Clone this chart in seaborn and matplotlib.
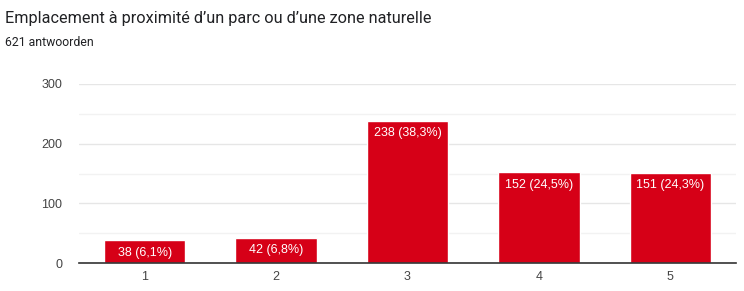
import matplotlib
matplotlib.use("Agg")
import matplotlib.pyplot as plt
import seaborn as sns
import pandas as pd

categories = ["1", "2", "3", "4", "5"]
counts = [38, 42, 238, 152, 151]
labels = ["38 (6,1%)", "42 (6,8%)", "238 (38,3%)", "152 (24,5%)", "151 (24,3%)"]
yticks = [0, 100, 200, 300]
title = "Emplacement à proximité d’un parc ou d’une zone naturelle"
subtitle = "621 antwoorden"

sns.set_theme(style="white")
plt.rcParams["font.family"] = ["Roboto", "DejaVu Sans"]

df = pd.DataFrame({"cat": categories, "n": counts})

fig = plt.figure(figsize=(7.44, 2.91), dpi=100)
ax = fig.add_axes([79/744, 1-263/291, (736-79)/744, (263-84)/291])

sns.barplot(data=df, x="cat", y="n", color="#d60017", saturation=1, width=0.62, ax=ax)

ax.set_xlim(-0.5, 4.5)
ax.set_ylim(0, 300)
ax.set_yticks(yticks)
ax.set_yticks([50, 150, 250], minor=True)
ax.grid(axis="y", which="major", color="#e6e6e6", linewidth=1)
ax.grid(axis="y", which="minor", color="#f2f2f2", linewidth=1)
ax.set_axisbelow(True)
for s in ["top", "right", "left"]:
    ax.spines[s].set_visible(False)
ax.spines["bottom"].set_color("#333333")
ax.spines["bottom"].set_linewidth(1.2)
ax.set_xlabel("")
ax.set_ylabel("")
ax.tick_params(axis="both", which="both", length=0, labelsize=9, labelcolor="#444444")
ax.tick_params(axis="y", pad=12)
ax.tick_params(axis="x", pad=6)
for t in ax.get_xticklabels() + ax.get_yticklabels():
    t.set_fontfamily(["Liberation Sans", "DejaVu Sans"])

for i, (v, lab) in enumerate(zip(counts, labels)):
    ax.annotate(lab, (i, v), xytext=(0, -4.5), textcoords="offset points",
                ha="center", va="top", color="white", fontsize=9,
                family=["Liberation Sans", "DejaVu Sans"])

fig.text(5/744, 1-18/291, title, fontsize=11.7, color="#202124", va="center", ha="left")
fig.text(5/744, 1-43/291, subtitle, fontsize=8.8, color="#202124", va="center", ha="left")

fig.savefig("out.png", dpi=100)
